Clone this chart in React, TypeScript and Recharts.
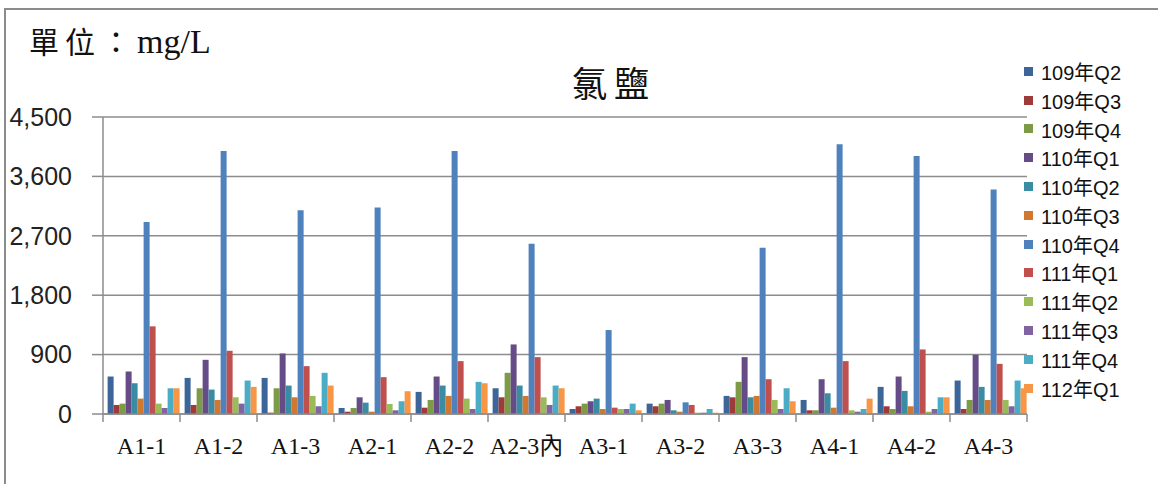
import { BarChart, Bar, XAxis, YAxis, CartesianGrid } from 'recharts';

const sites = ['A1-1', 'A1-2', 'A1-3', 'A2-1', 'A2-2', 'A2-3內', 'A3-1', 'A3-2', 'A3-3', 'A4-1', 'A4-2', 'A4-3'];

const q109_2 = [568, 547, 547, 91, 335, 390, 76, 157, 274, 213, 411, 507];
const q109_3 = [137, 137, 20, 35, 96, 253, 117, 117, 253, 56, 117, 76];
const q109_4 = [157, 390, 390, 91, 213, 624, 157, 157, 487, 56, 76, 213];
const q110_1 = [644, 821, 917, 253, 568, 1054, 193, 213, 862, 527, 568, 897];
const q110_2 = [466, 370, 431, 172, 431, 431, 233, 56, 253, 314, 350, 411];
const q110_3 = [233, 213, 253, 35, 274, 274, 76, 35, 274, 96, 117, 213];
const q110_4 = [2909, 3984, 3087, 3127, 3984, 2580, 1272, 177, 2519, 4086, 3909, 3402];
const q111_1 = [1328, 958, 725, 558, 801, 862, 96, 137, 527, 801, 978, 760];
const q111_2 = [157, 253, 274, 152, 233, 253, 76, 20, 213, 56, 35, 213];
const q111_3 = [91, 157, 117, 56, 76, 137, 76, 20, 76, 35, 76, 117];
const q111_4 = [390, 507, 624, 193, 487, 431, 157, 76, 390, 76, 253, 507];
const q112_1 = [390, 411, 431, 345, 466, 390, 56, 20, 193, 233, 253, 390];

const seriesNames = ['109年Q2', '109年Q3', '109年Q4', '110年Q1', '110年Q2', '110年Q3', '110年Q4', '111年Q1', '111年Q2', '111年Q3', '111年Q4', '112年Q1'];
const seriesValues = [q109_2, q109_3, q109_4, q110_1, q110_2, q110_3, q110_4, q111_1, q111_2, q111_3, q111_4, q112_1];
const seriesColors = ['#3C6699', '#9E3A37', '#7D9B46', '#654C87', '#3A8CA3', '#D0782F', '#4F81BD', '#C0504D', '#9BBB59', '#8064A2', '#4BACC6', '#F79646'];

const yTicks = [0, 900, 1800, 2700, 3600, 4500];

const data = sites.map((site, i) => {
  const row: Record<string, string | number> = { site };
  seriesNames.forEach((name, s) => {
    row[name] = seriesValues[s][i];
  });
  return row;
});

const gridColor = '#8C8C8C';

// category label plus the tick marks on the category boundaries (Excel style)
const SiteTick = ({ x, y, payload, width, visibleTicksCount, index }: any) => {
  const half = (width || 924) / (visibleTicksCount || sites.length) / 2;
  const isLast = index === (visibleTicksCount || sites.length) - 1;
  return (
    <g>
      <line x1={x - half} x2={x - half} y1={y} y2={y + 8} stroke={gridColor} strokeWidth={1.5} />
      {isLast && <line x1={x + half} x2={x + half} y1={y} y2={y + 8} stroke={gridColor} strokeWidth={1.5} />}
      <text
        x={x}
        y={y + 32}
        textAnchor="middle"
        dominantBaseline="central"
        fontFamily='"Liberation Serif", "Noto Sans CJK TC", serif'
        fontSize={24}
        fill="#111"
      >
        {payload.value}
      </text>
    </g>
  );
};

export default function App() {
  return (
    <div style={{ position: 'absolute', left: 0, top: 0, width: 1158, height: 484, overflow: 'hidden', background: '#fff' }}>
      {/* outer frame, cut off on the right and bottom */}
      <div style={{ position: 'absolute', left: 4, top: 8, width: 1170, height: 500, border: '2px solid #8C8C8C' }} />
      <div
        style={{
          position: 'absolute', left: 29, top: 18, fontSize: 30, color: '#111', whiteSpace: 'nowrap',
          fontFamily: '"Liberation Serif", "Noto Sans CJK TC", serif',
        }}
      >
        <span style={{ letterSpacing: 6 }}>單位：</span>
        <span style={{ fontSize: 34 }}>mg/L</span>
      </div>
      <div
        style={{
          position: 'absolute', left: 572, top: 56, fontSize: 35, letterSpacing: 7, color: '#111',
          fontFamily: '"Noto Sans CJK TC", serif',
        }}
      >
        氯鹽
      </div>
      <div style={{ position: 'absolute', left: 0, top: 0, fontFamily: '"Liberation Sans", "Noto Sans CJK TC", sans-serif' }}>
        <BarChart
          width={1158}
          height={484}
          data={data}
          margin={{ top: 117, right: 131, bottom: 69, left: 0 }}
          barCategoryGap="6%"
          barGap={0}
        >
          <CartesianGrid vertical={false} stroke={gridColor} strokeWidth={1.5} />
          <XAxis
            dataKey="site"
            height={1}
            axisLine={{ stroke: gridColor, strokeWidth: 1.5 }}
            tickLine={false}
            tickSize={0}
            tickMargin={0}
            interval={0}
            tick={<SiteTick />}
          />
          <YAxis
            width={103}
            domain={[0, 4500]}
            ticks={yTicks}
            interval={0}
            axisLine={{ stroke: gridColor, strokeWidth: 1.5 }}
            tickLine={{ stroke: gridColor, strokeWidth: 1.5 }}
            tickSize={11}
            tickMargin={20}
            tick={{ fill: '#222', fontSize: 25 }}
            tickFormatter={(v: number) => v.toLocaleString('en-US')}
          />
          {seriesNames.map((name, i) => (
            <Bar key={name} dataKey={name} fill={seriesColors[i]} isAnimationActive={false} />
          ))}
        </BarChart>
      </div>
      {/* legend */}
      <div style={{ position: 'absolute', left: 1024, top: 57, fontFamily: '"Liberation Sans", "Noto Sans CJK TC", sans-serif' }}>
        {seriesNames.map((name, i) => (
          <div key={name} style={{ display: 'flex', alignItems: 'center', height: 28.8 }}>
            <span style={{ width: 9, height: 9, background: seriesColors[i], marginRight: 8 }} />
            <span style={{ fontSize: 20, color: '#111' }}>{name}</span>
          </div>
        ))}
      </div>
    </div>
  );
}
